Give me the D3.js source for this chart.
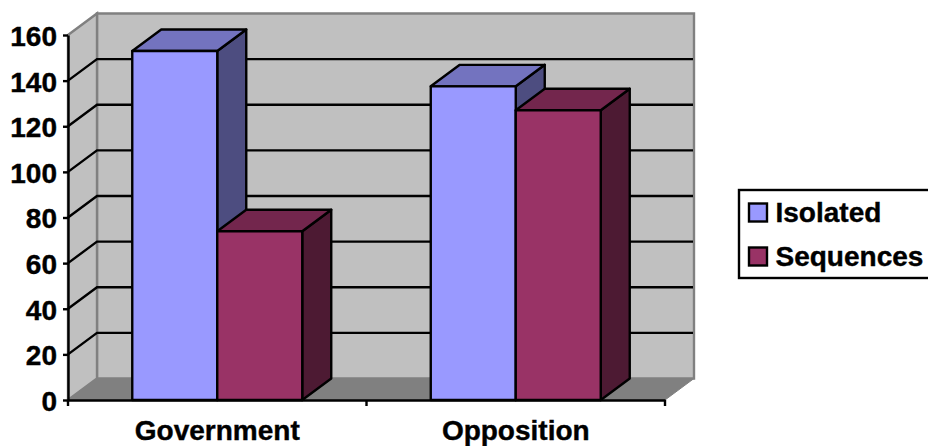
<!DOCTYPE html>
<html lang="en">
<head>
<meta charset="UTF-8">
<title>Isolated and sequences</title>
<script src="https://cdn.jsdelivr.net/npm/d3@7"></script>
<style>
    html, body { margin: 0; padding: 0; background: #fff; overflow: hidden; }
    svg { display: block; }
    text { font-family: "Liberation Sans", Arial, sans-serif; font-weight: bold; fill: #000; stroke: #000; stroke-width: 0.4px; }
    .tick text { font-size: 28px; }
</style>
</head>
<body>
<div id="container"></div>
<script>
    const categories = ["Government", "Opposition"];
    const seriesNames = ["Isolated", "Sequences"];
    const isolated = [153, 137.5];
    const sequences = [74, 127];
    const yTicks = [0, 20, 40, 60, 80, 100, 120, 140, 160];

    const values = { Isolated: isolated, Sequences: sequences };
    const front = { Isolated: "#9999ff", Sequences: "#993366" };
    const topFace = { Isolated: "#7373bf", Sequences: "#73264d" };
    const sideFace = { Isolated: "#4d4d80", Sequences: "#4d1a33" };

    const width = 928, height = 446;
    const plotLeft = 68, plotRight = 665, plotBottom = 400, plotTop = 35;
    const dx = 29, dy = 21.5; // depth of the 3d box
    const ink = 2.4;

    const x = d3.scaleBand().domain(categories).range([plotLeft, plotRight]);
    const xInner = d3.scaleBand().domain(seriesNames)
        .range([0, x.bandwidth()])
        .paddingInner(0)
        .paddingOuter(0.756);
    const y = d3.scaleLinear().domain([0, 160]).range([plotBottom, plotTop]);

    const svg = d3.select("#container").append("svg")
        .attr("width", width)
        .attr("height", height);

    const poly = pts => pts.map(p => p.join(",")).join(" ");

    // walls and floor
    svg.append("polygon")
        .attr("points", poly([[plotLeft + dx, y(160) - dy], [plotRight + dx, y(160) - dy], [plotRight + dx, y(0) - dy], [plotLeft + dx, y(0) - dy]]))
        .attr("fill", "#c0c0c0").attr("stroke", "#808080").attr("stroke-width", ink);
    svg.append("polygon")
        .attr("points", poly([[plotLeft, y(160)], [plotLeft + dx, y(160) - dy], [plotLeft + dx, y(0) - dy], [plotLeft, y(0)]]))
        .attr("fill", "#c0c0c0").attr("stroke", "#808080").attr("stroke-width", ink);
    svg.append("polygon")
        .attr("points", poly([[plotLeft, y(0)], [plotLeft + dx, y(0) - dy], [plotRight + dx, y(0) - dy], [plotRight, y(0)]]))
        .attr("fill", "#808080").attr("stroke", "#808080").attr("stroke-width", 1);

    // grid lines, side wall then back wall
    const grid = yTicks.filter(d => d > 0 && d < 160);
    svg.append("g").selectAll("polyline").data(grid).join("polyline")
        .attr("points", d => poly([[plotLeft, y(d)], [plotLeft + dx, y(d) - dy], [plotRight + dx - 1, y(d) - dy]]))
        .attr("fill", "none")
        .attr("stroke", "#000")
        .attr("stroke-width", ink);

    // bars
    const barRows = [];
    categories.forEach((c, i) => {
        seriesNames.forEach(s => barRows.push({ category: c, series: s, value: values[s][i] }));
    });
    const bars = svg.append("g").selectAll("g").data(barRows).join("g")
        .attr("stroke", "#000")
        .attr("stroke-width", ink)
        .attr("stroke-linejoin", "round");

    const bx = d => x(d.category) + xInner(d.series);
    const bw = xInner.bandwidth();

    bars.append("polygon") // side
        .attr("points", d => poly([[bx(d) + bw, y(d.value)], [bx(d) + bw + dx, y(d.value) - dy], [bx(d) + bw + dx, y(0) - dy], [bx(d) + bw, y(0)]]))
        .attr("fill", d => sideFace[d.series]);
    bars.append("polygon") // top
        .attr("points", d => poly([[bx(d), y(d.value)], [bx(d) + dx, y(d.value) - dy], [bx(d) + bw + dx, y(d.value) - dy], [bx(d) + bw, y(d.value)]]))
        .attr("fill", d => topFace[d.series]);
    bars.append("rect")
        .attr("x", bx)
        .attr("y", d => y(d.value))
        .attr("width", bw)
        .attr("height", d => y(0) - y(d.value))
        .attr("fill", d => front[d.series]);

    // axes
    const yAxis = d3.axisLeft(y).tickValues(yTicks).tickSize(5).tickSizeOuter(0).tickPadding(6);
    const yG = svg.append("g").attr("transform", `translate(${plotLeft},0)`).call(yAxis);
    yG.select(".domain").attr("stroke", "#000").attr("stroke-width", ink);
    yG.selectAll(".tick line").attr("stroke", "#000").attr("stroke-width", ink);
    yG.selectAll(".tick text").attr("dy", "0.37em");

    const xAxis = d3.axisBottom(x).tickSize(0).tickPadding(20);
    const xG = svg.append("g").attr("transform", `translate(0,${plotBottom})`).call(xAxis);
    xG.select(".domain").attr("stroke", "#000").attr("stroke-width", ink);

    // tick marks sit between the categories
    const edges = categories.map(c => x(c)).concat([plotRight]);
    xG.selectAll("line.edge").data(edges).join("line")
        .attr("class", "edge")
        .attr("x1", d => d).attr("x2", d => d)
        .attr("y1", 0).attr("y2", 6)
        .attr("stroke", "#000").attr("stroke-width", ink);

    // legend, runs off the right edge like the source image
    const legend = svg.append("g").attr("transform", "translate(739,190)");
    legend.append("rect")
        .attr("width", 200).attr("height", 88)
        .attr("fill", "#fff").attr("stroke", "#000").attr("stroke-width", ink);
    const items = legend.selectAll("g").data(seriesNames).join("g")
        .attr("transform", (d, i) => `translate(0,${22.5 + i * 44})`);
    items.append("rect")
        .attr("x", 10).attr("y", -9)
        .attr("width", 18).attr("height", 18)
        .attr("fill", d => front[d])
        .attr("stroke", "#000").attr("stroke-width", ink);
    items.append("text")
        .attr("x", 36.5).attr("y", 9.5)
        .attr("font-size", 28)
        .text(d => d);
</script>
</body>
</html>
